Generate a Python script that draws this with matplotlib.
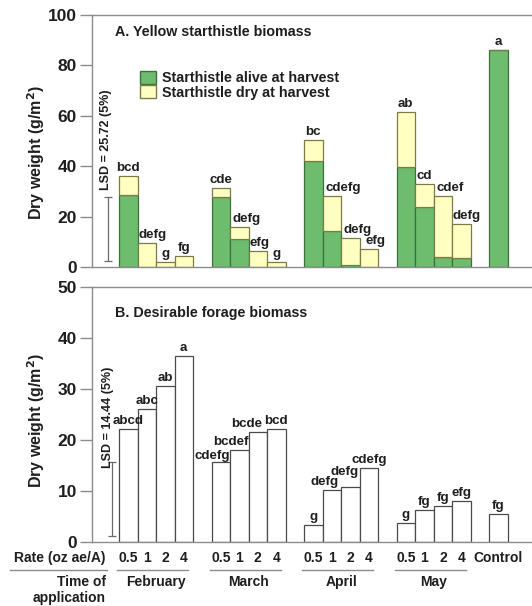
import matplotlib
matplotlib.use("Agg")
import matplotlib.pyplot as plt
from matplotlib.patches import Patch
from matplotlib.transforms import blended_transform_factory

plt.rcParams['font.family'] = ['Liberation Sans', 'DejaVu Sans']
plt.rcParams['font.weight'] = 'bold'

# ---- data ----
months = ["February", "March", "April", "May"]
rates = ["0.5", "1", "2", "4"]

# panel A: starthistle biomass (g/m2)
alive = [28.6, 0, 0, 0,
         27.6, 11.0, 0, 0,
         42.2, 14.4, 0.8, 0,
         39.8, 23.9, 4.1, 3.4,
         86.1]
total_a = [36.1, 9.5, 2.0, 4.4,
           31.5, 15.9, 6.5, 2.1,
           50.4, 28.3, 11.4, 7.0,
           61.5, 32.8, 28.2, 16.9,
           86.1]
letters_a = ["bcd", "defg", "g", "fg",
             "cde", "defg", "efg", "g",
             "bc", "cdefg", "defg", "efg",
             "ab", "cd", "cdef", "defg",
             "a"]

# panel B: desirable forage biomass (g/m2)
forage = [22.1, 26.0, 30.5, 36.4,
          15.6, 18.0, 21.5, 22.2,
          3.3, 10.1, 10.8, 14.5,
          3.8, 6.3, 7.0, 8.0,
          5.4]
letters_b = ["abcd", "abc", "ab", "a",
             "cdefg", "bcdef", "bcde", "bcd",
             "g", "defg", "defg", "cdefg",
             "g", "fg", "fg", "efg",
             "fg"]

lsd_a = 25.72
lsd_b = 14.44

# bar positions: 4 rates per month, one gap between months, control last
xpos = [g * 5 + i for g in range(len(months)) for i in range(len(rates))]
xpos.append(len(months) * 5)

dry = [t - a for t, a in zip(total_a, alive)]

# small nudges (points) so the letters sit as in the original
nudge_a = {1: (4, 0), 5: (5, 0), 6: (1.5, 0), 9: (8, 0), 10: (5, 0),
           11: (4.5, 0), 14: (5, 0), 15: (4, 0)}
nudge_b = {4: (-6, -1), 5: (-6, 0), 6: (-8, 0), 9: (-5, 0), 10: (-4.5, 5)}

GREEN = "#6ebc6e"
GREEN_EDGE = "#3f6f3f"
YELLOW = "#ffffc2"
YELLOW_EDGE = "#7c7a45"
GRAY = "#8c8c8c"
TXT = "#1e1e1e"

fig = plt.figure(figsize=(5.32, 6.06), dpi=100)
ax1 = fig.add_axes([0.173, 0.5594, 0.827, 0.4158])
ax2 = fig.add_axes([0.173, 0.1056, 0.827, 0.4208])

for ax in (ax1, ax2):
    ax.set_xlim(-1.96, 21.82)
    ax.spines['right'].set_visible(False)
    for s in ('left', 'top', 'bottom'):
        ax.spines[s].set_color(GRAY)
        ax.spines[s].set_linewidth(1.0)
    ax.tick_params(axis='x', bottom=False, labelbottom=False)
    ax.set_ylabel("Dry weight (g/m$^\\mathbf{2}$)", fontsize=11.5,
                  fontweight='bold', color=TXT)

# ---- panel A ----
ax1.set_ylim(0, 100)
ax1.set_yticks(range(0, 101, 20))
ax1.bar(xpos, alive, width=1.0, color=GREEN, edgecolor=GREEN_EDGE, linewidth=0.9)
ax1.bar(xpos, dry, bottom=alive, width=1.0, color=YELLOW,
        edgecolor=YELLOW_EDGE, linewidth=0.9)
for k, (x, t, s) in enumerate(zip(xpos, total_a, letters_a)):
    dx, dy = nudge_a.get(k, (0, 0))
    ax1.annotate(s, (x, t), xytext=(dx, 1.5 + dy), textcoords='offset points',
                 ha='center', va='bottom', fontsize=9.6, color=TXT)
ax1.errorbar(-1.09, 2.2 + lsd_a / 2, yerr=lsd_a / 2, color="#6a6a6a",
             capsize=3, elinewidth=0.9, capthick=0.9)
ax1.text(-1.2, 30.5, "LSD = 25.72 (5%)", rotation=90, ha='center',
         va='bottom', fontsize=9, color=TXT)
ax1.text(-0.72, 93.3, "A. Yellow starthistle biomass", ha='left',
         va='center', fontsize=10.3, color=TXT)
handles = [Patch(facecolor=GREEN, edgecolor=GREEN_EDGE),
           Patch(facecolor=YELLOW, edgecolor=YELLOW_EDGE)]
leg = ax1.legend(handles, ["Starthistle alive at harvest",
                           "Starthistle dry at harvest"],
                 loc='upper left', bbox_to_anchor=(0.109, 0.778),
                 frameon=False, fontsize=10.3, handlelength=1.1,
                 handleheight=1.0, handletextpad=0.45, labelspacing=0.0,
                 borderpad=0, borderaxespad=0)
for t in leg.get_texts():
    t.set_color(TXT)
    t.set_fontweight('bold')
ax1.yaxis.set_label_coords(-0.103, 0.456)

# ---- panel B ----
ax2.set_ylim(0, 50)
ax2.set_yticks(range(0, 51, 10))
ax2.bar(xpos, forage, width=1.0, color="white", edgecolor="#4a4a4a",
        linewidth=0.9)
for k, (x, v, s) in enumerate(zip(xpos, forage, letters_b)):
    dx, dy = nudge_b.get(k, (0, 0))
    ax2.annotate(s, (x, v), xytext=(dx, 1.5 + dy), textcoords='offset points',
                 ha='center', va='bottom', fontsize=9.6, color=TXT)
ax2.errorbar(-0.9, 1.2 + lsd_b / 2, yerr=lsd_b / 2, color="#6a6a6a",
             capsize=3, elinewidth=0.9, capthick=0.9)
ax2.text(-1.1, 14.6, "LSD = 14.44 (5%)", rotation=90, ha='center',
         va='bottom', fontsize=9, color=TXT)
ax2.text(-0.72, 44.9, "B. Desirable forage biomass", ha='left',
         va='center', fontsize=10.3, color=TXT)
ax2.yaxis.set_label_coords(-0.103, 0.475)

for ax in (ax1, ax2):
    ax.tick_params(axis='y', direction='out', length=9, width=1, color=GRAY,
                   pad=2, labelsize=12.5, labelcolor=TXT)
    for lab in ax.get_yticklabels():
        lab.set_fontweight('bold')

# ---- category labels under panel B ----
tr = blended_transform_factory(ax2.transData, fig.transFigure)
y_rate, y_line, y_month, y_app = 0.0792, 0.0594, 0.0396, 0.0132
for g, m in enumerate(months):
    for i, r in enumerate(rates):
        ax2.text(xpos[g * 4 + i], y_rate, r, transform=tr, ha='center',
                 va='center', fontsize=10, color=TXT)
    x0 = xpos[g * 4]
    x1 = xpos[g * 4 + 3]
    ax2.plot([x0 - 0.6, x1 + 0.25], [y_line, y_line], transform=tr,
             color=GRAY, linewidth=1, clip_on=False)
    ax2.text((x0 + x1) / 2, y_month, m, transform=tr, ha='center',
             va='center', fontsize=10, color=TXT)
ax2.text(xpos[-1], y_rate, "Control", transform=tr, ha='center',
         va='center', fontsize=10, color=TXT)

fig.text(0.199, y_rate, "Rate (oz ae/A)", ha='right', va='center',
         fontsize=10, color=TXT)
fig.add_artist(plt.Line2D([0.019, 0.201], [y_line, y_line], color=GRAY,
                          linewidth=1))
fig.text(0.199, y_month, "Time of", ha='right', va='center', fontsize=10,
         color=TXT)
fig.text(0.199, y_app, "application", ha='right', va='center', fontsize=10,
         color=TXT)

fig.savefig("out.png", dpi=100)
